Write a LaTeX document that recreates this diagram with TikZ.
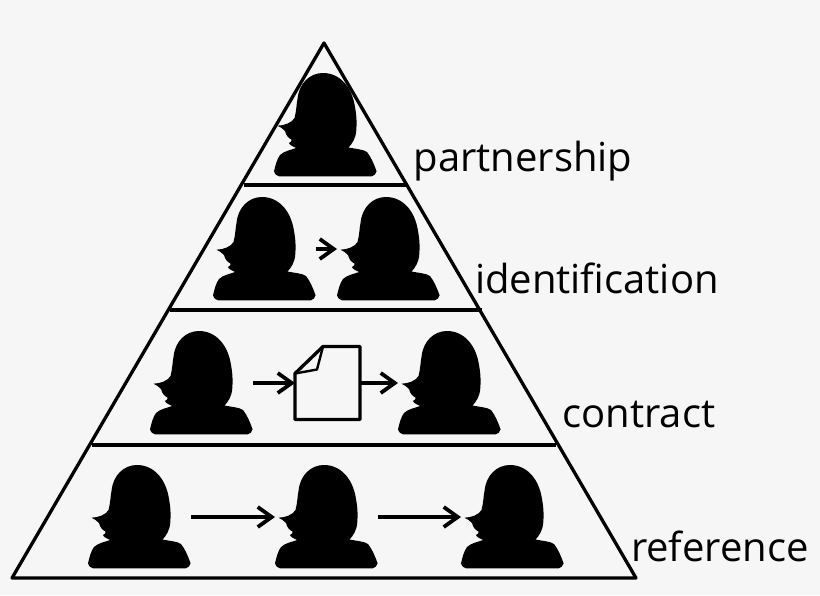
\documentclass[tikz,border=0pt]{standalone}
\usepackage{fontspec}
\setmainfont{Open Sans}
\usetikzlibrary{arrows.meta, calc}
\newcommand{\personshape}{%
    (5,103.3) .. controls (1.5,102) and (0,100) .. (0,98.3)
    .. controls (1.5,92) and (3,86) .. (6,82)
    .. controls (10,78) and (17,77) .. (22,75)
    .. controls (19,73.5) and (15.5,72) .. (15,70)
    .. controls (17,69) and (18,68) .. (17.5,66.5)
    .. controls (14,65) and (12,62) .. (11,58)
    .. controls (9,55.5) and (6,54) .. (3.5,52.7)
    .. controls (11,52.5) and (18,49.5) .. (20.5,45)
    .. controls (22.5,38) and (22.5,30) .. (23.5,26)
    .. controls (25,10) and (36,0) .. (49,0)
    .. controls (66,0) and (78,14) .. (81,34)
    .. controls (82.5,42) and (83,50) .. (82.3,57)
    .. controls (82,65) and (78,71) .. (74.5,74.5)
    .. controls (82,76) and (90,76.5) .. (93,79)
    .. controls (97,84) and (100,91) .. (102.6,98.3)
    .. controls (102,101) and (100,103) .. (97.7,103.3) -- cycle}
\tikzset{every node/.style={inner sep=0pt, outer sep=0pt},
person/.style={minimum width=103pt, minimum height=104pt}, % box of one silhouette
docbox/.style={minimum width=65pt, minimum height=73pt},
level/.style={anchor=base west, font=\fontsize{40}{40}\selectfont},
outline/.style={line width=3.3pt, line join=round},
flow/.style={line width=3.6pt, -{Straight Barb[length=14pt,width=20pt,line width=3.8pt]}}}

\begin{document}
\begin{tikzpicture}[x=1pt, y=-1pt]

    \fill[white!96.5!black] (0,0) rectangle (820,595);
    \useasboundingbox (0,0) rectangle (820,595);

    % pyramid
    \coordinate (apex) at (324,43);
    \coordinate (left) at (12,578);
    \coordinate (right) at (636,578);
    \coordinate (a1) at (244,185);
    \coordinate (b1) at (408,185);
    \coordinate (a2) at (170,310);
    \coordinate (b2) at (482,310);
    \coordinate (a3) at (92,445);
    \coordinate (b3) at (556,445);
    \draw[outline] (apex) -- (right) -- (left) -- cycle;
    \draw[outline] (a1) -- (b1);
    \draw[outline] (a2) -- (b2);
    \draw[outline] (a3) -- (b3);

    \node[person] (top) at (325.5,125) {};

    \node[person] (id1) at (264.5,249) {};
    \node[person] (id2) at (388.5,249) {};

    \node[person] (con1) at (201.5,383) {};
    \node[docbox] (doc) at (327.5,383) {};
    \node[person] (con2) at (449.5,383) {};

    \node[person] (ref1) at (139.5,517) {};
    \node[person] (ref2) at (326.5,517) {};
    \node[person] (ref3) at (512.5,517) {};

    \foreach \who in {top,id1,id2,con1,con2,ref1,ref2,ref3}
        \fill[shift={(\who.north west)}] \personshape;

    % folded corner of the sheet
    \coordinate (fold1) at ($(doc.north west)+(28,0)$);
    \coordinate (fold2) at ($(doc.north west)+(0,27)$);
    \coordinate (fold3) at ($(doc.north west)+(22,23)$);
    \draw[outline] (doc.south west) -- (doc.south east) -- (doc.north east) -- (fold1) -- (fold2) -- cycle;
    \draw[outline, line width=2.4pt] (fold1) -- (fold3) -- (fold2);

    \draw[flow] (id1.east) -- (id2.west);
    \draw[flow] (con1.east) -- (doc.west);
    \draw[flow] (doc.east) -- (con2.west);
    \draw[flow] (ref1.east) -- (ref2.west);
    \draw[flow] (ref2.east) -- (ref3.west);

    \node[level] (partnership) at (413.5,171) {partnership};
    \node[level] (identification) at (475,293) {identification};
    \node[level] (contract) at (562.5,427) {contract};
    \node[level] (reference) at (631,561) {reference};

\end{tikzpicture}
\end{document}
